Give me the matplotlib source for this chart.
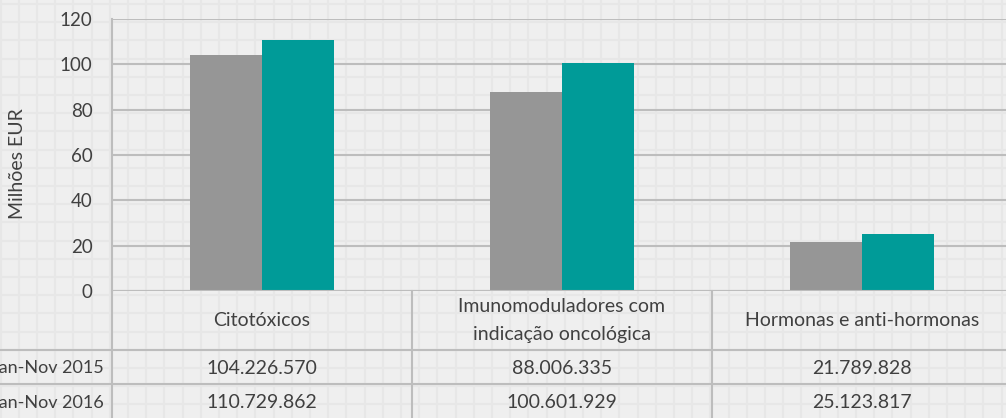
import matplotlib.pyplot as plt
from matplotlib.lines import Line2D

plt.rcParams['font.family'] = ['Lato', 'DejaVu Sans']

categorias = ['Citotóxicos', 'Imunomoduladores com\nindicação oncológica', 'Hormonas e anti-hormonas']
series = ['Jan-Nov 2015', 'Jan-Nov 2016']
valores_2015 = [104226570, 88006335, 21789828]
valores_2016 = [110729862, 100601929, 25123817]
cores = ['#969696', '#009b98']
texto = '#404040'
linha = '#bdbdbd'


def fmt(v):
    return f'{v:,}'.replace(',', '.')


fig = plt.figure(figsize=(10.06, 4.18), dpi=100)
fig.patch.set_facecolor('#efefef')

# fundo quadriculado
bg = fig.add_axes([0, 0, 1, 1], zorder=-1)
bg.set_xlim(0, 1006)
bg.set_ylim(418, 0)
bg.axis('off')
x = 0.6
while x < 1006:
    bg.axvline(x, color='#e7e7e7', lw=1.5)
    x += 18.2
y = 4
while y < 418:
    bg.axhline(y, color='#e7e7e7', lw=1.5)
    y += 18.2

ax = fig.add_axes([112 / 1006, 127 / 418, 900 / 1006, 272 / 418])
ax.set_facecolor('none')

pos = list(range(len(categorias)))
w = 0.24
ax.bar([p - w / 2 for p in pos], [v / 1e6 for v in valores_2015], w, color=cores[0], zorder=3)
ax.bar([p + w / 2 for p in pos], [v / 1e6 for v in valores_2016], w, color=cores[1], zorder=3)

ax.set_xlim(-0.5, 2.5)
ax.set_ylim(0, 120)
ax.set_yticks(range(0, 121, 20))
ax.set_xticks([])
ax.tick_params(axis='y', length=0, pad=14, labelsize=13.5, labelcolor=texto)
ax.yaxis.grid(True, color=linha, lw=1.5)
ax.set_axisbelow(True)
for s in ['top', 'right', 'bottom']:
    ax.spines[s].set_visible(False)
ax.spines['left'].set_color(linha)
ax.spines['left'].set_linewidth(1.5)
ax.axhline(0, color=linha, lw=1.5, zorder=4)

ax.set_ylabel('Milhões EUR', fontsize=14, color=texto)
ax.yaxis.set_label_coords(-0.095, 0.467)

# tabela de dados
tr = ax.get_xaxis_transform()
for xs in [-0.5, 0.5, 1.5, 2.5]:
    ax.add_artist(Line2D([xs, xs], [0, -0.47], transform=tr, color=linha, lw=1.5, clip_on=False))
for ys in [-59 / 272, -93 / 272]:
    ax.add_artist(Line2D([-0.125, 1.0], [ys, ys], transform=ax.transAxes, color=linha, lw=1.5, clip_on=False))

for p, c in zip(pos, categorias):
    ax.text(p, -29.5 / 272, c, transform=tr, ha='center', va='center', fontsize=14,
            color=texto, linespacing=1.75)

linhas_y = [-77 / 272, -112 / 272]
for yy, nome, vals in zip(linhas_y, series, [valores_2015, valores_2016]):
    ax.text(-0.009, yy, nome, transform=ax.transAxes, ha='right', va='center', fontsize=13, color=texto)
    for p, v in zip(pos, vals):
        ax.text(p, yy, fmt(v), transform=tr, ha='center', va='center', fontsize=14, color=texto)

fig.savefig('out.png', dpi=100, facecolor=fig.get_facecolor())
